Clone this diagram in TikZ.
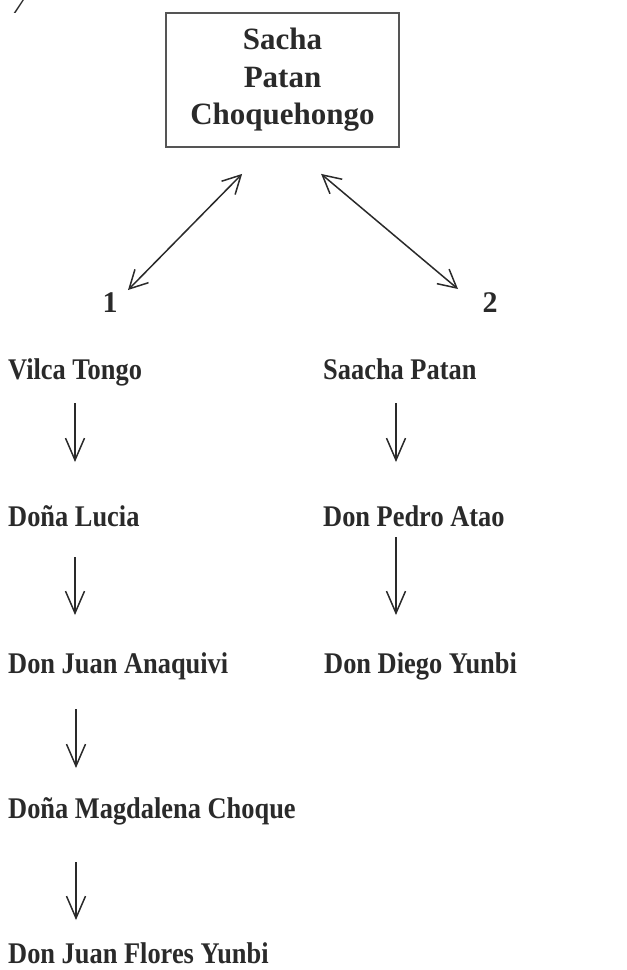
\documentclass[tikz,border=0pt]{standalone}
\usepackage{fontspec}
\setmainfont{Liberation Serif}
\newfontfamily\namefont[FakeStretch=0.88]{Liberation Serif}
\usetikzlibrary{arrows.meta}
\definecolor{ink}{HTML}{2A2A2A}
\definecolor{frame}{HTML}{555555}
\tikzset{
  person/.style={anchor=base west, inner sep=0pt, text=ink, font=\namefont\bfseries\fontsize{30}{32}\selectfont},
  num/.style={anchor=base, inner sep=0pt, text=ink, font=\bfseries\fontsize{30}{32}\selectfont},
  rootbox/.style={draw=frame, line width=1.8pt, minimum width=233pt, minimum height=134pt, inner sep=0pt,
    align=center, text=ink, font=\bfseries\fontsize{31}{37.5}\selectfont},
  down/.style={draw=ink, line width=1.5pt, -{Straight Barb[length=22pt,width=19pt,line width=1.5pt]}},
  both/.style={draw=ink, line width=1.5pt, {Straight Barb[length=18pt,width=19pt,line width=1.5pt]}-{Straight Barb[length=18pt,width=19pt,line width=1.5pt]}}
}
\begin{document}
\begin{tikzpicture}[x=1pt,y=-1pt]
\useasboundingbox (0,0) rectangle (627,970);
\begin{scope}
\clip (0,0) rectangle (627,970);
\node[anchor=base west, inner sep=0pt, text=ink, font=\itshape\fontsize{28}{30}\selectfont] (fig) at (12,13) {7};
\end{scope}

\node[rootbox] (root) at (282.5,80) {Sacha\\Patan\\Choquehongo};

\node[num] (one) at (110,312) {1};
\node[num] (two) at (490,312) {2};

\node[person] (vilca) at (8,379) {Vilca Tongo};
\node[person] (lucia) at (8,526) {Doña Lucia};
\node[person] (juanA) at (8,673) {Don Juan Anaquivi};
\node[person] (magda) at (8,818) {Doña Magdalena Choque};
\node[person] (juanF) at (8,963) {Don Juan Flores Yunbi};

\node[person] (saacha) at (323,379) {Saacha Patan};
\node[person] (pedro) at (323,526) {Don Pedro Atao};
\node[person] (diego) at (324,673) {Don Diego Yunbi};

\coordinate (colL) at (75,0);
\coordinate (colL2) at (76,0);
\coordinate (colR) at (396,0);

\draw[both] ([shift={(77,26)}]root.south west) -- ([shift={(18,-22)}]one.base);
\draw[both] ([shift={(156,26)}]root.south west) -- ([shift={(-32,-23)}]two.base);

\draw[down] ([yshift=-24]vilca.base -| colL) -- ([yshift=64]lucia.base -| colL);
\draw[down] ([yshift=-31]lucia.base -| colL) -- ([yshift=58]juanA.base -| colL);
\draw[down] ([yshift=-36]juanA.base -| colL2) -- ([yshift=50]magda.base -| colL2);
\draw[down] ([yshift=-44]magda.base -| colL2) -- ([yshift=43]juanF.base -| colL2);

\draw[down] ([yshift=-24]saacha.base -| colR) -- ([yshift=64]pedro.base -| colR);
\draw[down] ([yshift=-11]pedro.base -| colR) -- ([yshift=58]diego.base -| colR);
\end{tikzpicture}
\end{document}
